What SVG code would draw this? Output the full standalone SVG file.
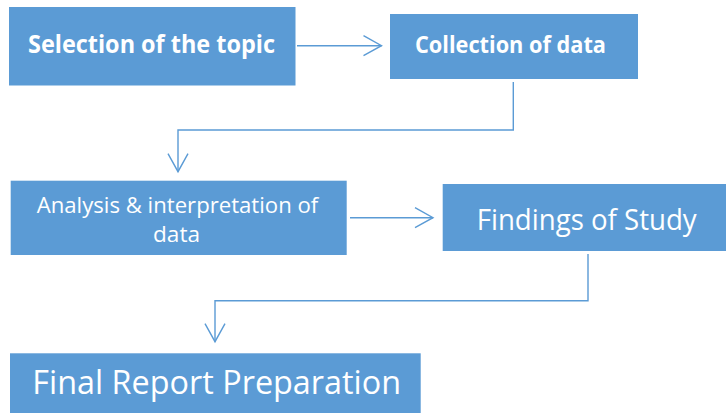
<svg xmlns="http://www.w3.org/2000/svg" width="726" height="413" viewBox="0 0 726 413">
<style>
.box{fill:#5B9BD5}
.t{fill:#ffffff;font-family:"Open Sans","Liberation Sans",sans-serif;text-anchor:middle}
.b{font-weight:bold}
.conn{fill:none;stroke:#5B9BD5;stroke-width:1.4}
</style>
<defs>
<marker id="arr" markerUnits="userSpaceOnUse" markerWidth="24" markerHeight="24" viewBox="-20 -12 24 24" refX="0" refY="0" orient="auto">
<path d="M-18,-10 L0,0 L-18,10" fill="none" stroke="#5B9BD5" stroke-width="1.4"/>
</marker>
</defs>
<rect width="726" height="413" fill="#ffffff"/>
<g id="connectors">
<path class="conn" d="M297,45.7 L381.5,45.7" marker-end="url(#arr)"/>
<path class="conn" d="M513.3,82 L513.3,130 L178,130 L178,171.7" marker-end="url(#arr)"/>
<path class="conn" d="M350,217.7 L433,217.7" marker-end="url(#arr)"/>
<path class="conn" d="M588,254 L588,300.7 L215,300.7 L215,341.7" marker-end="url(#arr)"/>
</g>
<g id="n1">
<rect class="box" x="9" y="7" width="286.5" height="78.5"/>
<text class="t b" x="151.5" y="53.3" font-size="25" textLength="247" lengthAdjust="spacingAndGlyphs">Selection of the topic</text>
</g>
<g id="n2">
<rect class="box" x="390" y="14" width="248" height="65"/>
<text class="t b" x="510.5" y="53.3" font-size="23" textLength="191" lengthAdjust="spacingAndGlyphs">Collection of data</text>
</g>
<g id="n3">
<rect class="box" x="10.7" y="180.7" width="336" height="74.3"/>
<text class="t" x="177.5" y="212.7" font-size="22" textLength="281.6" lengthAdjust="spacingAndGlyphs">Analysis &amp; interpretation of</text>
<text class="t" x="176.5" y="241.7" font-size="22" textLength="47" lengthAdjust="spacingAndGlyphs">data</text>
</g>
<g id="n4">
<rect class="box" x="442.7" y="184" width="283.3" height="67"/>
<text class="t" x="586.7" y="230" font-size="29" textLength="220" lengthAdjust="spacingAndGlyphs">Findings of Study</text>
</g>
<g id="n5">
<rect class="box" x="10" y="353.3" width="410.7" height="59.7"/>
<text class="t" x="216.7" y="394.3" font-size="32" textLength="368.7" lengthAdjust="spacingAndGlyphs">Final Report Preparation</text>
</g>
</svg>
